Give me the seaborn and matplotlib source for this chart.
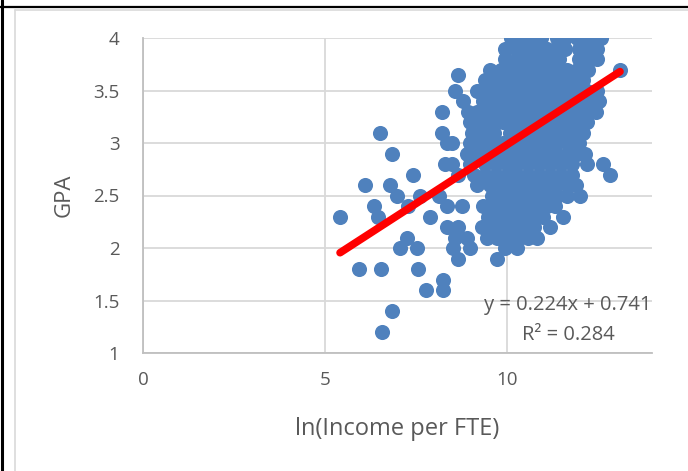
import numpy as np
import pandas as pd
import matplotlib
matplotlib.use("Agg")
import matplotlib.pyplot as plt
from matplotlib.lines import Line2D
import seaborn as sns

# ---- data (x = ln(Income per FTE), grouped by GPA level) ----
inc_g40 = [10.12, 10.4, 10.7, 10.95, 11.4, 11.6, 11.95, 12.2, 12.4, 12.6]
inc_g39 = [9.96, 10.25, 10.55, 10.85, 11.1, 11.35, 11.6, 12.0, 12.3, 12.5]
inc_g38 = [9.96, 10.3, 10.6, 10.9, 11.2, 11.45, 12.0, 12.25, 12.5]
inc_g37 = [9.55, 9.85, 10.15, 10.45, 10.75, 11.05, 11.35, 11.65, 11.95, 12.25, 13.12]
inc_g365 = [8.67]
inc_g36 = [9.4, 9.7, 10.0, 10.3, 10.6, 10.9, 11.2, 11.5, 11.8, 12.1]
inc_g35 = [8.58, 9.19, 9.5, 9.8, 10.1, 10.4, 10.7, 11.0, 11.3, 11.6, 11.9, 12.2, 12.5]
inc_g34 = [8.8, 9.35, 9.65, 9.95, 10.25, 10.55, 10.85, 11.15, 11.45, 11.75, 12.05, 12.35, 12.55]
inc_g33 = [8.23, 8.94, 9.2, 9.5, 9.8, 10.1, 10.4, 10.7, 11.0, 11.3, 11.6, 11.9, 12.2, 12.45]
inc_g32 = [9.0, 9.3, 9.6, 9.9, 10.2, 10.5, 10.8, 11.1, 11.4, 11.7, 12.0, 12.2]
inc_g31 = [6.52, 8.23, 9.05, 9.35, 9.65, 10.1, 10.4, 10.7, 11.0, 11.3, 11.6, 11.9, 12.1]
inc_g30 = [8.36, 8.5, 9.0, 9.3, 9.6, 9.9, 10.2, 10.5, 10.8, 11.1, 11.4, 11.7, 12.0]
inc_g29 = [6.85, 8.91, 9.25, 9.55, 9.85, 10.15, 10.45, 10.75, 11.05, 11.35, 11.65, 11.95, 12.16]
inc_g28 = [8.3, 8.5, 9.0, 9.4, 9.7, 10.0, 10.3, 10.6, 10.9, 11.2, 11.5, 11.8, 12.2, 12.65]
inc_g27 = [7.43, 8.67, 9.1, 9.4, 9.7, 10.0, 10.3, 10.6, 10.9, 11.2, 11.5, 11.8, 12.85]
inc_g26 = [6.1, 6.8, 9.19, 9.55, 9.85, 10.15, 10.45, 10.75, 11.05, 11.35, 11.65, 11.9]
inc_g25 = [6.99, 7.62, 8.14, 9.6, 9.9, 10.2, 10.5, 10.8, 11.1, 11.4, 11.65, 12.02]
inc_g24 = [6.36, 7.29, 8.36, 8.78, 9.35, 9.65, 9.95, 10.25, 10.55, 10.85, 11.1, 11.33]
inc_g23 = [5.42, 6.46, 7.9, 9.5, 9.8, 10.1, 10.4, 10.7, 11.0, 11.55]
inc_g22 = [8.36, 8.67, 9.33, 9.6, 9.9, 10.2, 10.5, 10.75, 11.2]
inc_g21 = [7.26, 8.58, 8.91, 9.46, 9.75, 10.05, 10.35, 10.6, 10.84]
inc_g20 = [7.07, 7.54, 8.53, 9.0, 9.96, 10.3]
inc_g19 = [8.67, 9.74]
inc_g18 = [5.94, 6.55, 7.57]
inc_g17 = [8.25]
inc_g16 = [7.79, 8.25]
inc_g14 = [6.85]
inc_g12 = [6.57]

gpa_levels = [4.0, 3.9, 3.8, 3.7, 3.65, 3.6, 3.5, 3.4, 3.3, 3.2, 3.1, 3.0, 2.9, 2.8,
              2.7, 2.6, 2.5, 2.4, 2.3, 2.2, 2.1, 2.0, 1.9, 1.8, 1.7, 1.6, 1.4, 1.2]
income_groups = [inc_g40, inc_g39, inc_g38, inc_g37, inc_g365, inc_g36, inc_g35, inc_g34,
                 inc_g33, inc_g32, inc_g31, inc_g30, inc_g29, inc_g28, inc_g27, inc_g26,
                 inc_g25, inc_g24, inc_g23, inc_g22, inc_g21, inc_g20, inc_g19, inc_g18,
                 inc_g17, inc_g16, inc_g14, inc_g12]

slope = 0.224
intercept = 0.741
r_squared = 0.284

x_ticks = [0, 5, 10]
y_ticks = [1, 1.5, 2, 2.5, 3, 3.5, 4]
x_label = "ln(Income per FTE)"
y_label = "GPA"

rows = []
for lvl, grp in zip(gpa_levels, income_groups):
    for v in grp:
        rows.append((v, lvl))
df = pd.DataFrame(rows, columns=["income", "gpa"])

# ---- style ----
sns.set_style("white")
plt.rcParams["font.family"] = ["Open Sans", "DejaVu Sans"]
text_col = "#595959"
grid_col = "#d9d9d9"
axis_col = "#bfbfbf"

fig = plt.figure(figsize=(6.88, 4.71), dpi=100)
ax = fig.add_axes([143 / 688, 1 - 353 / 471, (652 - 143) / 688, (353 - 38) / 471])

sns.scatterplot(data=df, x="income", y="gpa", ax=ax, color="#4f81bd", s=118,
                linewidth=0, alpha=1, zorder=3)

xs = np.array([df["income"].min(), df["income"].max()])
sns.lineplot(x=xs, y=slope * xs + intercept, ax=ax, color="#ff0000", linewidth=5.5,
             solid_capstyle="round", zorder=4)

ax.set_xlim(0, 14)
ax.set_ylim(1, 4)
ax.set_xticks(x_ticks)
ax.set_yticks(y_ticks)
ax.set_xticklabels([f"{t:g}" for t in x_ticks])
ax.set_yticklabels([f"{t:g}" for t in y_ticks])
ax.grid(True, color=grid_col, linewidth=1.3, zorder=0)
ax.set_axisbelow(True)
for s in ["top", "right"]:
    ax.spines[s].set_visible(False)
for s in ["left", "bottom"]:
    ax.spines[s].set_color(axis_col)
    ax.spines[s].set_linewidth(1.3)
ax.tick_params(axis="both", length=0, labelsize=13.5, labelcolor=text_col)
ax.tick_params(axis="x", pad=13)
ax.tick_params(axis="y", pad=17)

ax.set_xlabel(x_label, fontsize=17, color=text_col, labelpad=20)
ax.set_ylabel(y_label, fontsize=16, color=text_col, labelpad=13)

ax.text(11.69, 1.457, f"y = {slope:.3f}x + {intercept:.3f}", ha="center", va="center",
        fontsize=14.5, color=text_col, zorder=5)
ax.text(11.69, 1.171, f"R\u00b2 = {r_squared:.3f}", ha="center", va="center",
        fontsize=14.5, color=text_col, zorder=5)

# chart area border and sheet cell lines
W, H = 688, 471
fig.add_artist(Line2D([15 / W, 15 / W], [0, 1 - 10 / H], color=grid_col, lw=1.2))
fig.add_artist(Line2D([15 / W, 1], [1 - 10 / H, 1 - 10 / H], color=grid_col, lw=1.2))
fig.add_artist(Line2D([0, 1], [1 - 7 / H, 1 - 7 / H], color="black", lw=1.6))
fig.add_artist(Line2D([2 / W, 2 / W], [0, 1], color="black", lw=2.2))

fig.savefig("out.png", dpi=100)
